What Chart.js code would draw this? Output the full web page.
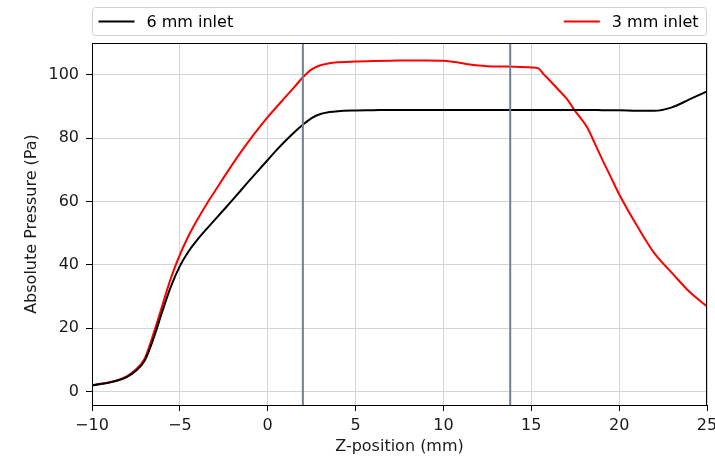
<!DOCTYPE html>
<html>
<head>
<meta charset="utf-8">
<script src="https://cdn.jsdelivr.net/npm/chart.js@4/dist/chart.umd.min.js"></script>
<style>
  body { margin: 0; background: #fff; }
  canvas { display: block; }
</style>
</head>
<body>
<canvas id="pressureChart" width="715" height="456"></canvas>
<script>
// Z positions (mm) shared by both inlet curves
const zPos = [-10, -9.5, -9, -8.5, -8, -7.5, -7, -6.5, -6, -5.5, -5, -4.5, -4, -3.5, -3, -2.5, -2, -1.5, -1, -0.5,
  0, 0.5, 1, 1.5, 2, 2.5, 3, 3.5, 4, 5, 6, 7, 8, 9, 10, 10.5, 11, 11.5, 12, 12.5, 13, 14, 15, 15.4,
  15.7, 16, 16.5, 17, 17.5, 18.2, 18.6, 19, 19.5, 20, 21, 22, 23, 24, 25];

const inlet6mm = [2, 2.4, 2.9, 3.6, 4.7, 6.6, 9.8, 16.8, 25.3, 33.3, 39.6, 44.3, 48, 51.2, 54.3, 57.4, 60.5, 63.7, 66.9, 70,
  73.1, 76.2, 79.1, 81.8, 84.2, 86.3, 87.6, 88.2, 88.5, 88.7, 88.8, 88.9, 88.9, 88.9, 88.9, 88.9, 88.9, 88.9, 88.9, 88.9, 88.9, 88.9, 88.9, 88.9,
  88.9, 88.9, 88.9, 88.9, 88.9, 88.9, 88.9, 88.8, 88.8, 88.8, 88.6, 88.6, 89.7, 92.2, 94.7];

const inlet3mm = [2.1, 2.5, 3, 3.7, 4.9, 7, 10.5, 18.3, 27.2, 36, 43.2, 49.2, 54.3, 59, 63.3, 67.6, 71.8, 75.8, 79.6, 83.2,
  86.6, 89.8, 92.9, 96, 99.2, 101.7, 103, 103.6, 103.9, 104.2, 104.3, 104.4, 104.5, 104.5, 104.4, 104.1, 103.7, 103.2, 102.9, 102.7, 102.6, 102.5, 102.3, 102,
  100.2, 98.5, 95.5, 92.5, 88.5, 83.2, 78.5, 73.7, 68, 62.3, 52.5, 43.7, 37.5, 31.5, 26.9];

// vertical marker lines (mm)
const markerLines = [2, 13.8];

const seriesLabels = ['6 mm inlet', '3 mm inlet'];
const seriesColors = ['#000000', '#ff0000'];

const xTicks = [-10, -5, 0, 5, 10, 15, 20, 25];
const yTicks = [0, 20, 40, 60, 80, 100];
const xRange = [-10, 25];
const yRange = [-4.2, 110];

const FONT = 'DejaVu Sans';

function toPoints(xs, ys) {
  return xs.map((x, i) => ({ x: x, y: ys[i] }));
}

// markers, top/right spines and the expanded legend box (matplotlib style)
const decorPlugin = {
  id: 'decor',
  afterDatasetsDraw(chart) {
    const { ctx, chartArea, scales } = chart;
    ctx.save();
    ctx.strokeStyle = '#708090';
    ctx.lineWidth = 2;
    markerLines.forEach(v => {
      const px = scales.x.getPixelForValue(v);
      ctx.beginPath();
      ctx.moveTo(px, chartArea.top);
      ctx.lineTo(px, chartArea.bottom);
      ctx.stroke();
    });
    ctx.restore();
  },
  afterDraw(chart) {
    const { ctx, chartArea } = chart;
    const l = Math.round(chartArea.left) + 0.5;
    const t = Math.round(chartArea.top) + 0.5;
    const r = Math.round(chartArea.right) - 0.5;
    const b = Math.round(chartArea.bottom);
    ctx.save();
    ctx.strokeStyle = '#000';
    ctx.lineWidth = 1;
    ctx.beginPath();
    ctx.moveTo(l - 0.5, t);
    ctx.lineTo(r, t);
    ctx.lineTo(r, b);
    ctx.stroke();

    // legend box
    const boxTop = 7.5, boxBottom = 35.5;
    ctx.fillStyle = 'rgba(255,255,255,0.9)';
    ctx.strokeStyle = '#d0d0d0';
    ctx.beginPath();
    ctx.roundRect(l, boxTop, r - l, boxBottom - boxTop, 3);
    ctx.fill();
    ctx.stroke();

    ctx.font = '16px "' + FONT + '"';
    ctx.textBaseline = 'middle';
    ctx.lineWidth = 2;
    const midY = (boxTop + boxBottom) / 2;
    const lineLen = 36, gap = 12;

    // left entry
    let x0 = l + 6;
    ctx.strokeStyle = seriesColors[0];
    ctx.beginPath();
    ctx.moveTo(x0, midY);
    ctx.lineTo(x0 + lineLen, midY);
    ctx.stroke();
    ctx.fillStyle = '#000';
    ctx.fillText(seriesLabels[0], x0 + lineLen + gap, midY + 1);

    // right entry, pushed to the right edge
    const w = ctx.measureText(seriesLabels[1]).width;
    const tx = r - 8 - w;
    x0 = tx - gap - lineLen;
    ctx.strokeStyle = seriesColors[1];
    ctx.beginPath();
    ctx.moveTo(x0, midY);
    ctx.lineTo(x0 + lineLen, midY);
    ctx.stroke();
    ctx.fillText(seriesLabels[1], tx, midY + 1);
    ctx.restore();
  }
};

const ctx = document.getElementById('pressureChart').getContext('2d');

new Chart(ctx, {
  type: 'line',
  data: {
    datasets: [
      {
        label: seriesLabels[0],
        data: toPoints(zPos, inlet6mm),
        borderColor: seriesColors[0],
        borderWidth: 2,
        pointRadius: 0,
        fill: false,
        cubicInterpolationMode: 'monotone'
      },
      {
        label: seriesLabels[1],
        data: toPoints(zPos, inlet3mm),
        borderColor: seriesColors[1],
        borderWidth: 2,
        pointRadius: 0,
        fill: false,
        cubicInterpolationMode: 'monotone'
      }
    ]
  },
  options: {
    responsive: false,
    animation: false,
    layout: { padding: { left: 0, top: 43, right: 8, bottom: 0 } },
    plugins: {
      legend: { display: false },
      tooltip: { enabled: false }
    },
    scales: {
      x: {
        type: 'linear',
        min: xRange[0],
        max: xRange[1],
        afterBuildTicks: axis => { axis.ticks = xTicks.map(v => ({ value: v })); },
        afterFit: axis => {
          axis.height = 51;
          axis.paddingLeft = 0;
          axis.paddingRight = 0;
        },
        grid: {
          color: '#d4d4d4',
          lineWidth: 1,
          tickLength: 6,
          tickColor: '#000'
        },
        border: { color: '#000', width: 1 },
        ticks: {
          color: '#1a1a1a',
          padding: 5,
          maxRotation: 0,
          font: { family: FONT, size: 16 },
          callback: v => String(v).replace('-', '\u2212')
        },
        title: {
          display: true,
          text: 'Z-position (mm)',
          color: '#1a1a1a',
          font: { family: FONT, size: 16 },
          padding: { top: 0, bottom: 0 }
        }
      },
      y: {
        type: 'linear',
        min: yRange[0],
        max: yRange[1],
        afterBuildTicks: axis => { axis.ticks = yTicks.map(v => ({ value: v })); },
        afterFit: axis => {
          axis.width = 92;
          axis.paddingTop = 0;
          axis.paddingBottom = 0;
        },
        grid: {
          color: '#d4d4d4',
          lineWidth: 1,
          tickLength: 6,
          tickColor: '#000'
        },
        border: { color: '#000', width: 1 },
        ticks: {
          color: '#1a1a1a',
          padding: 7,
          font: { family: FONT, size: 16 }
        },
        title: {
          display: true,
          text: 'Absolute Pressure (Pa)',
          color: '#1a1a1a',
          font: { family: FONT, size: 16 },
          padding: { top: 22, bottom: 0 }
        }
      }
    }
  },
  plugins: [decorPlugin]
});
</script>
</body>
</html>
